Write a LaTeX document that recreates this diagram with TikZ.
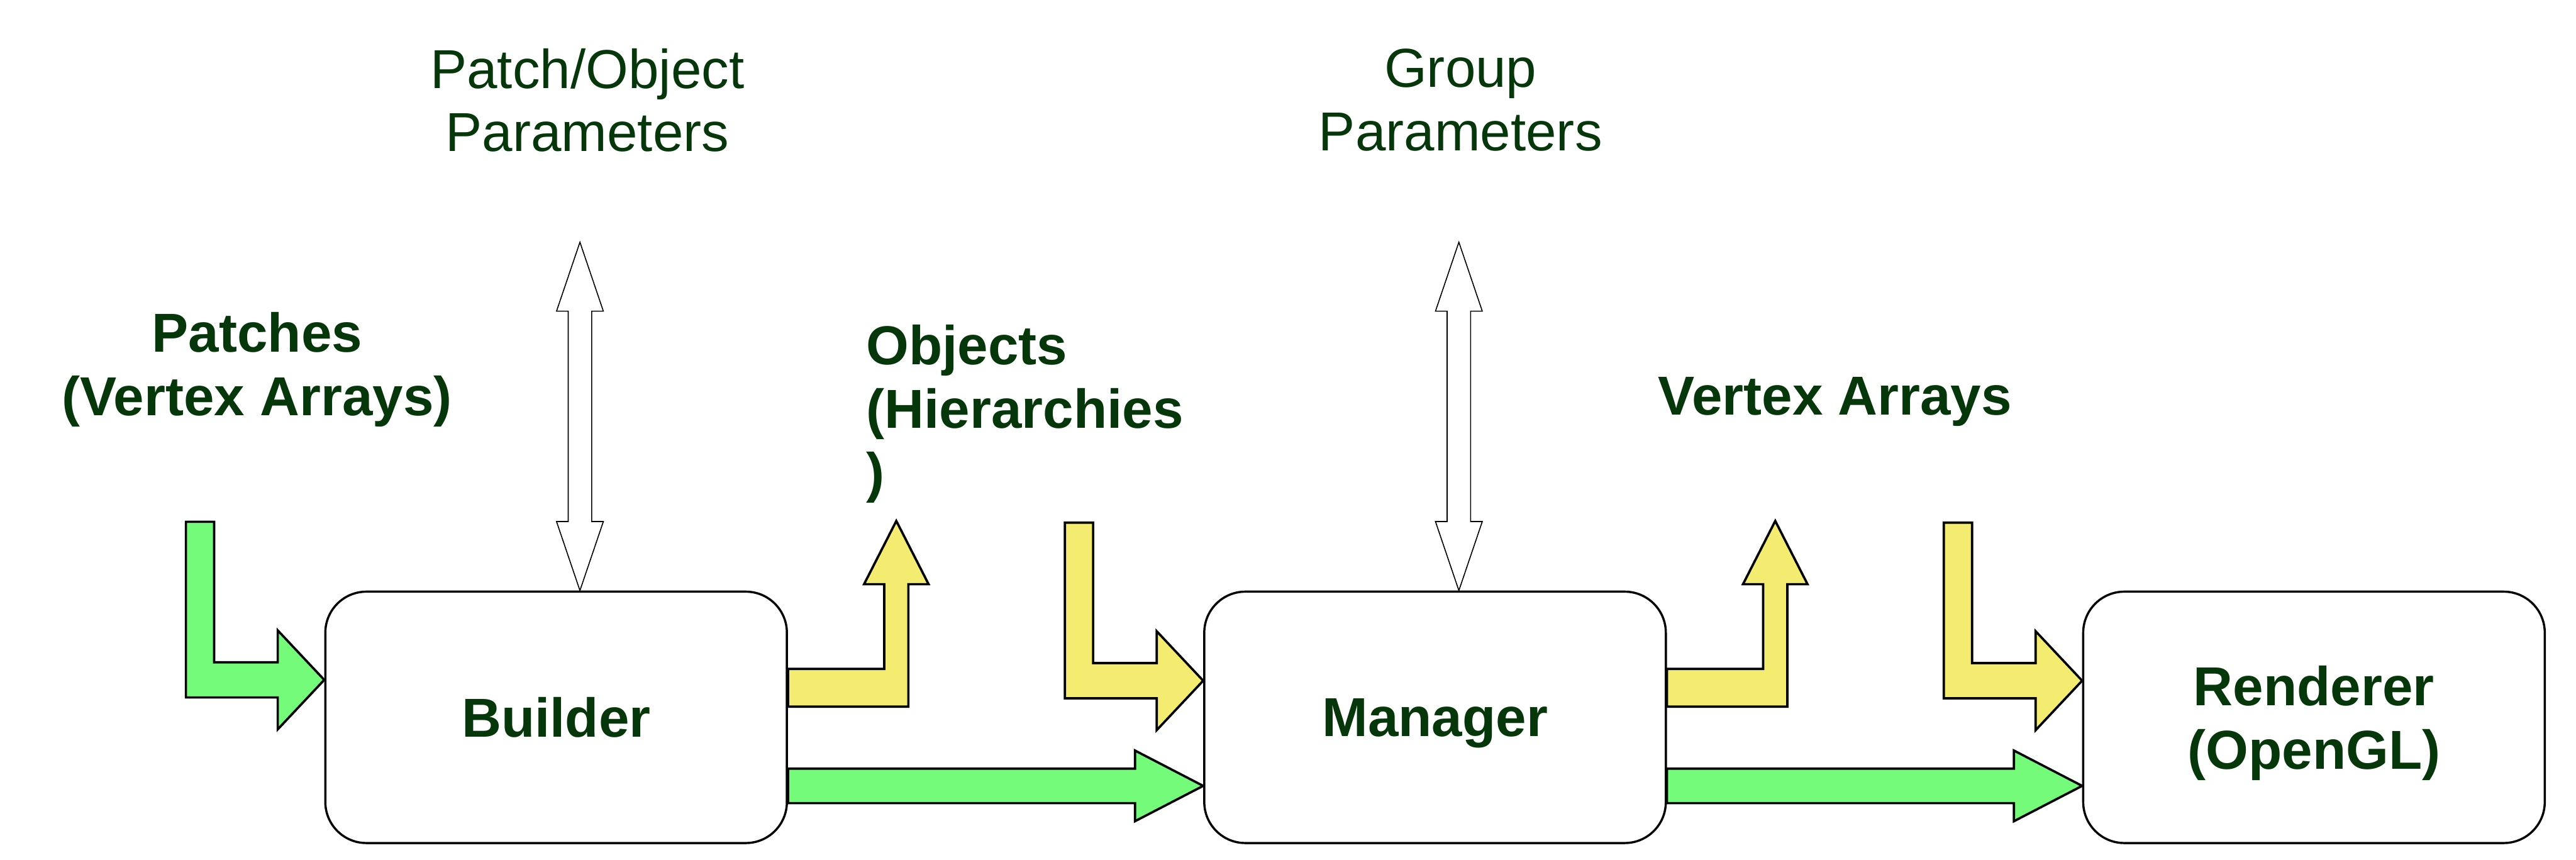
\documentclass[tikz,border=0pt]{standalone}
\usepackage{fontspec}
\setmainfont{Liberation Sans}
\usetikzlibrary{calc,backgrounds}
\definecolor{txtgreen}{RGB}{5,55,10}
\definecolor{flowgreen}{RGB}{117,251,122}
\definecolor{flowyellow}{RGB}{243,236,112}
\begin{document}
\begin{tikzpicture}[x=0.02cm,y=-0.02cm,
  box/.style={draw=black, line width=0.75pt, fill=white, rounded corners=0.5cm,
    minimum width=5.62cm, minimum height=3.06cm, inner sep=0pt, align=center,
    text depth=0pt, text=txtgreen, font=\fontsize{19}{22}\selectfont\bfseries},
  lbl/.style={text=txtgreen, align=center, inner sep=0pt, font=\fontsize{19}{22}\selectfont},
  blbl/.style={text=txtgreen, align=center, inner sep=0pt, font=\fontsize{19}{22}\selectfont\bfseries},
  garrow/.style={draw=black, line width=0.8pt, fill=flowgreen},
  yarrow/.style={draw=black, line width=0.8pt, fill=flowyellow},
  warrow/.style={draw=black, line width=0.35pt, fill=white},
  inarrow/.pic={\path[pic actions] (0,0) -- ++(-28.3,-30.1) -- ++(0,19.4) -- ++(-38.7,0)
     -- ++(0,-85.5) -- ++(-17.2,0) -- ++(0,106.9) -- ++(55.9,0) -- ++(0,19.4) -- cycle;},
  uparrow/.pic={\path[pic actions] (0,-29.5) -- ++(58.6,0) -- ++(0,-51.5) -- ++(-12.3,0)
     -- ++(19.65,-38.5) -- ++(19.65,38.5) -- ++(-12.3,0) -- ++(0,74.5) -- (0,-6.5) -- cycle;},
  dblarrow/.pic={\path[pic actions] (0,0) -- ++(-14.25,-42) -- ++(7.1,0) -- ++(0,-128)
     -- ++(-7.1,0) -- ++(14.25,-42) -- ++(14.25,42) -- ++(-7.1,0) -- ++(0,128)
     -- ++(7.1,0) -- cycle;}]
\useasboundingbox (0,0) rectangle (1568,523);

\node[box] (builder) at (338.5,436.5) {Builder};
\node[box] (manager) at (873.5,436.5) {Manager};
\node[box] (renderer) at (1408.5,436.5) {Renderer\\(OpenGL)};

\node[lbl] (popar) at (357.5,61) {Patch/Object\\Parameters};
\node[lbl] (gpar) at (889,61) {Group\\Parameters};
\node[blbl] (patches) at (156.5,225) {Patches\\(Vertex Arrays)};
\node[blbl, align=left, anchor=west, text depth=0pt] (objects) at (527,248.5) {Objects\\(Hierarchies\\)};
\node[blbl, text depth=0pt] (varr) at (1117,241) {Vertex Arrays};

\begin{scope}[on background layer]
  % inputs (L-shaped)
  \pic[garrow] at ($(builder.west)+(0,-22.8)$) {inarrow};
  \pic[yarrow] at ($(manager.west)+(0,-22.3)$) {inarrow};
  \pic[yarrow] at ($(renderer.west)+(0,-22.3)$) {inarrow};
  % outputs going up
  \pic[yarrow] at (builder.east) {uparrow};
  \pic[yarrow] at (manager.east) {uparrow};
  % straight green flows
  \draw[garrow] ($(builder.east)+(0,31.2)$) -- ($(manager.west)+(-41.5,31.2)$) -- ++(0,-11)
     -- ($(manager.west)+(0,41.7)$) -- ($(manager.west)+(-41.5,63.2)$) -- ++(0,-11)
     -- ($(builder.east)+(0,52.2)$) -- cycle;
  \draw[garrow] ($(manager.east)+(0,31.2)$) -- ($(renderer.west)+(-41.5,31.2)$) -- ++(0,-11)
     -- ($(renderer.west)+(0,41.7)$) -- ($(renderer.west)+(-41.5,63.2)$) -- ++(0,-11)
     -- ($(manager.east)+(0,52.2)$) -- cycle;
  % parameter double arrows
  \pic[warrow] at ($(builder.north)+(14.5,0)$) {dblarrow};
  \pic[warrow] at ($(manager.north)+(14.5,0)$) {dblarrow};
\end{scope}
\end{tikzpicture}
\end{document}
